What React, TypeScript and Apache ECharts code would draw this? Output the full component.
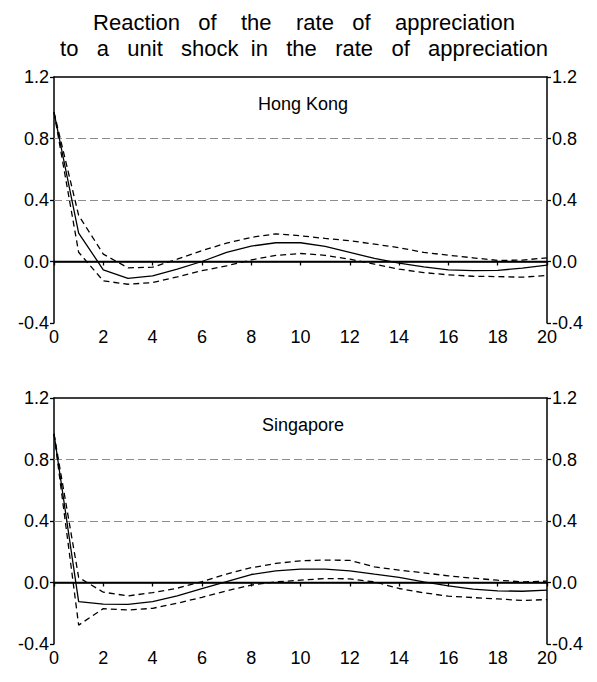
import React, { useEffect, useRef } from "react";
import * as echarts from "echarts";

const horizons = [0, 1, 2, 3, 4, 5, 6, 7, 8, 9, 10, 11, 12, 13, 14, 15, 16, 17, 18, 19, 20];

const hkIrf = [0.97, 0.185, -0.054, -0.11, -0.094, -0.05, 0.0, 0.059, 0.1, 0.122, 0.122, 0.098, 0.059, 0.02, -0.01, -0.035, -0.054, -0.06, -0.058, -0.043, -0.024];
const hkUpper = [0.97, 0.3, 0.048, -0.041, -0.037, 0.015, 0.07, 0.12, 0.157, 0.18, 0.167, 0.15, 0.135, 0.113, 0.09, 0.059, 0.041, 0.024, 0.007, 0.009, 0.024];
const hkLower = [0.97, 0.06, -0.126, -0.148, -0.137, -0.1, -0.06, -0.028, 0.01, 0.04, 0.052, 0.04, 0.015, -0.017, -0.05, -0.072, -0.087, -0.096, -0.098, -0.102, -0.091];

const sgIrf = [0.967, -0.124, -0.14, -0.142, -0.124, -0.087, -0.04, 0.005, 0.052, 0.076, 0.087, 0.087, 0.076, 0.054, 0.033, 0.004, -0.022, -0.043, -0.054, -0.057, -0.05];
const sgUpper = [0.967, 0.033, -0.063, -0.087, -0.066, -0.037, 0.005, 0.055, 0.096, 0.124, 0.141, 0.146, 0.144, 0.102, 0.08, 0.063, 0.043, 0.028, 0.015, 0.004, 0.009];
const sgLower = [0.967, -0.277, -0.17, -0.179, -0.168, -0.135, -0.096, -0.054, -0.017, 0.004, 0.015, 0.026, 0.024, 0.004, -0.039, -0.067, -0.089, -0.098, -0.107, -0.117, -0.111];

const panelNames = ["Hong Kong", "Singapore"];
const titleLine1 = "Reaction\u00A0\u00A0\u00A0of\u00A0\u00A0\u00A0\u00A0the\u00A0\u00A0\u00A0\u00A0rate\u00A0\u00A0\u00A0of\u00A0\u00A0\u00A0\u00A0appreciation";
const titleLine2 = "to\u00A0\u00A0\u00A0a\u00A0\u00A0\u00A0unit\u00A0\u00A0\u00A0shock\u00A0\u00A0in\u00A0\u00A0\u00A0the\u00A0\u00A0\u00A0rate\u00A0\u00A0\u00A0of\u00A0\u00A0\u00A0appreciation";

const FONT = "'Liberation Sans', Arial, sans-serif";

export default function App() {
  const ref = useRef<HTMLDivElement>(null);
  useEffect(() => {
    if (!ref.current) return;
    const chart = echarts.init(ref.current, null, { renderer: "svg" });
    const panels = [
      { irf: hkIrf, up: hkUpper, lo: hkLower },
      { irf: sgIrf, up: sgUpper, lo: sgLower },
    ];
    const tops = [77, 398];
    const grids = tops.map((t) => ({ left: 54, width: 493, top: t, height: 246 }));
    const xAxes: any[] = [];
    const yAxes: any[] = [];
    const series: any[] = [];
    const pair = (arr: number[]) => horizons.map((h, i) => [h, arr[i]]);
    panels.forEach((p, g) => {
      xAxes.push({
        type: "value", gridIndex: g, min: 0, max: 20, interval: 2, position: "bottom",
        axisLine: { show: true, lineStyle: { color: "#000", width: 1.5 } },
        axisTick: { show: true, inside: false, length: 4, lineStyle: { color: "#000", width: 1.3 } },
        axisLabel: { color: "#000", fontSize: 18, fontFamily: FONT, margin: 5 },
        splitLine: { show: false },
      });
      xAxes.push({
        type: "value", gridIndex: g, min: 0, max: 20, position: "top",
        axisLine: { show: true, onZero: false, lineStyle: { color: "#000", width: 1.5 } },
        axisTick: { show: false }, axisLabel: { show: false }, splitLine: { show: false },
      });
      ["left", "right"].forEach((pos) => {
        yAxes.push({
          type: "value", gridIndex: g, min: -0.4, max: 1.2, interval: 0.4, position: pos,
          axisLine: { show: true, onZero: false, lineStyle: { color: "#000", width: 1.5 } },
          axisTick: { show: true, inside: false, length: 4, lineStyle: { color: "#000", width: 1.3 } },
          axisLabel: { color: "#000", fontSize: 18, fontFamily: FONT, margin: 5, formatter: (v: number) => v.toFixed(1) },
          splitLine: { show: false },
        });
      });
      const xi = g * 2;
      const yi = g * 2;
      series.push({
        type: "line", xAxisIndex: xi, yAxisIndex: yi, data: pair(p.irf), showSymbol: false, symbol: "none",
        lineStyle: { color: "#000", width: 1.3, type: "solid" }, z: 5,
        markLine: {
          silent: true, symbol: ["none", "none"], label: { show: false },
          data: [
            { yAxis: 0.8, lineStyle: { color: "#8c8c8c", type: [8, 4], width: 1.2 } },
            { yAxis: 0.4, lineStyle: { color: "#8c8c8c", type: [8, 4], width: 1.2 } },
            { yAxis: 0, lineStyle: { color: "#000", type: "solid", width: 1.3 } },
          ],
        },
      });
      series.push({
        type: "line", xAxisIndex: xi, yAxisIndex: yi, data: pair(p.up), showSymbol: false, symbol: "none",
        lineStyle: { color: "#000", width: 1.3, type: [6, 4] }, z: 5,
      });
      series.push({
        type: "line", xAxisIndex: xi, yAxisIndex: yi, data: pair(p.lo), showSymbol: false, symbol: "none",
        lineStyle: { color: "#000", width: 1.3, type: [6, 4] }, z: 5,
      });
    });
    const option: any = {
      animation: false,
      backgroundColor: "#fff",
      title: [
        {
          text: titleLine1 + "\n" + titleLine2,
          left: 299, top: 4, textAlign: "center",
          textStyle: { color: "#000", fontSize: 22, fontWeight: "normal", fontFamily: FONT, lineHeight: 26, align: "center" },
        },
        {
          text: panelNames[0], left: 298, top: 90, textAlign: "center",
          textStyle: { color: "#000", fontSize: 18, fontWeight: "normal", fontFamily: FONT },
        },
        {
          text: panelNames[1], left: 298, top: 411, textAlign: "center",
          textStyle: { color: "#000", fontSize: 18, fontWeight: "normal", fontFamily: FONT },
        },
      ],
      grid: grids,
      xAxis: xAxes,
      yAxis: yAxes,
      series,
    };
    chart.setOption(option);
    return () => chart.dispose();
  }, []);
  return <div ref={ref} style={{ position: "absolute", left: 0, top: 0, width: 597, height: 682 }} />;
}
